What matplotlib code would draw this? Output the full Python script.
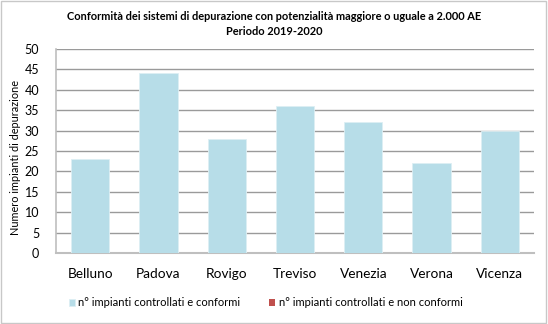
# --------- Import Libraries ----------

import matplotlib.pyplot as plt
import numpy as np

# ---------- Data ----------

province = ["Belluno", "Padova", "Rovigo", "Treviso", "Venezia", "Verona", "Vicenza"]
conformi = [23, 44, 28, 36, 32, 22, 30]
non_conformi = [0, 0, 0, 0, 0, 0, 0]
y_ticks = [0, 5, 10, 15, 20, 25, 30, 35, 40, 45, 50]

# ---------- Plot ----------

plt.rcParams['font.family'] = ['Lato', 'DejaVu Sans']

fig = plt.figure(figsize=(5.48, 3.24), dpi=100)
ax = fig.add_axes([56 / 548, 1 - 253 / 324, (534 - 56) / 548, (253 - 49) / 324])

x = np.arange(len(province))
b1 = ax.bar(x, conformi, width=0.56, color="#B7DDE8", edgecolor="#DDEFF4", linewidth=0.6,
            label="n° impianti controllati e conformi", zorder=3)
b2 = ax.bar(x, non_conformi, width=0.56, bottom=conformi, color="#C0504D",
            label="n° impianti controllati e non conformi", zorder=3)

ax.set_xlim(-0.5, len(province) - 0.5)
ax.set_ylim(0, 50)
ax.set_yticks(y_ticks)
ax.set_yticklabels([str(t) for t in y_ticks], fontsize=9)
ax.set_xticks(x)
ax.set_xticklabels(province, fontsize=9.8)
ax.tick_params(axis='x', length=0, pad=11)
ax.tick_params(axis='y', length=0, pad=12)

ax.grid(axis='y', color="#9a9a9a", linewidth=1.0, zorder=0)
for side in ["top", "right"]:
    ax.spines[side].set_visible(False)
ax.spines["left"].set_color("#bfbfbf")
ax.spines["bottom"].set_color("#bfbfbf")
ax.spines["left"].set_linewidth(1.2)
ax.spines["bottom"].set_linewidth(1.5)

ax.set_ylabel("Numero impianti di depurazione", fontsize=7.8)
ax.yaxis.set_label_coords(-0.073, 0.47)

fig.text(0.5, 1 - 24 / 324, "Conformità dei sistemi di depurazione con potenzialità maggiore o uguale a 2.000 AE\nPeriodo 2019-2020",
         ha="center", va="center", fontsize=7.9, fontweight="bold", linespacing=1.45)

fig.legend(handles=[b1, b2], loc="center", bbox_to_anchor=(0.485, 1 - 303 / 324), ncol=2,
           frameon=False, fontsize=8, handlelength=0.55, handleheight=0.55,
           handletextpad=0.3, columnspacing=2.6)

# outer chart border
fig.patches.append(plt.Rectangle((0.002, 0.003), 0.995, 0.994, transform=fig.transFigure,
                                 fill=False, edgecolor="#c8c8c8", linewidth=1.0))

fig.savefig("out.png", dpi=100)
